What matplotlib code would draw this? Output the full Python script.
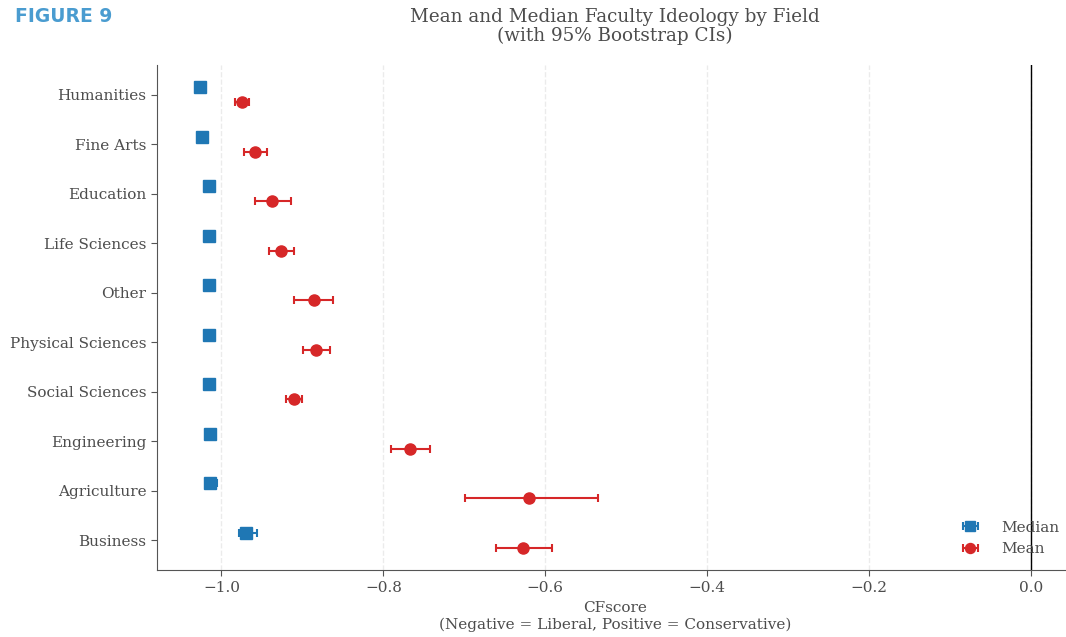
import numpy as np
import matplotlib
matplotlib.use("Agg")
import matplotlib.pyplot as plt


FIELDS = [
    "Humanities", "Fine Arts", "Education", "Life Sciences", "Other",
    "Physical Sciences", "Social Sciences", "Engineering", "Agriculture", "Business",
]

# medians with bootstrap CI bounds
MEDIAN = [-1.026, -1.024, -1.015, -1.015, -1.015, -1.015, -1.015, -1.014, -1.0136, -0.9695]
MEDIAN_LO = [-1.028, -1.026, -1.017, -1.017, -1.017, -1.017, -1.017, -1.016, -1.016, -0.9786]
MEDIAN_HI = [-1.024, -1.022, -1.013, -1.013, -1.013, -1.013, -1.013, -1.012, -1.0058, -0.9564]

# means with bootstrap CI bounds
MEAN = [-0.975, -0.958, -0.937, -0.926, -0.886, -0.883, -0.910, -0.767, -0.620, -0.627]
MEAN_LO = [-0.983, -0.972, -0.959, -0.941, -0.910, -0.899, -0.920, -0.791, -0.699, -0.661]
MEAN_HI = [-0.966, -0.944, -0.914, -0.910, -0.862, -0.866, -0.900, -0.742, -0.535, -0.592]

BLUE = "#1f77b4"
RED = "#d62728"
TEXT = "#4d4d4d"

plt.rcParams["font.family"] = "DejaVu Serif"
plt.rcParams["text.color"] = TEXT
plt.rcParams["axes.labelcolor"] = TEXT
plt.rcParams["xtick.color"] = TEXT
plt.rcParams["ytick.color"] = TEXT

fig = plt.figure(figsize=(10.66, 6.37), dpi=100)
# the original axes runs a little past the right edge of the image
ax = fig.add_axes([0.147, 0.105, 0.8593, 0.793])

y = np.arange(len(FIELDS))
off = 0.15

med = np.array(MEDIAN)
med_err = [med - np.array(MEDIAN_LO), np.array(MEDIAN_HI) - med]
mean = np.array(MEAN)
mean_err = [mean - np.array(MEAN_LO), np.array(MEAN_HI) - mean]

ax.errorbar(med, y - off, xerr=med_err, fmt="s", color=BLUE, markersize=8,
            capsize=3, elinewidth=1.5, capthick=1.5, label="Median", zorder=3)
ax.errorbar(mean, y + off, xerr=mean_err, fmt="o", color=RED, markersize=8,
            capsize=3, elinewidth=1.5, capthick=1.5, label="Mean", zorder=3)

ax.axvline(0, color="black", linewidth=1)

ax.set_yticks(y)
ax.set_yticklabels(FIELDS)
ax.set_ylim(len(FIELDS) - 0.4, -0.6)
ax.set_xlim(-1.08, 0.0515)
ax.set_xticks([-1.0, -0.8, -0.6, -0.4, -0.2, 0.0])

ax.tick_params(labelsize=11, length=4, color="#555555")
ax.grid(axis="x", linestyle="--", color="#ebebeb", linewidth=1)
ax.set_axisbelow(True)
for s in ["top", "right"]:
    ax.spines[s].set_visible(False)
for s in ["left", "bottom"]:
    ax.spines[s].set_color("#555555")

ax.set_xlabel("CFscore\n(Negative = Liberal, Positive = Conservative)", fontsize=11,
              linespacing=1.15, labelpad=5)
ax.set_title("Mean and Median Faculty Ideology by Field\n(with 95% Bootstrap CIs)",
             fontsize=13.2, color=TEXT, pad=17, linespacing=1.1)

ax.legend(loc="lower right", frameon=False, fontsize=11, handletextpad=1.0,
          borderaxespad=0.5, labelspacing=0.5, markerscale=0.9)

fig.text(0.014, 0.966, "FIGURE 9", fontsize=13.5, fontweight="bold",
         family="DejaVu Sans", color="#4a9cd0")

fig.savefig("out.png", dpi=100)
